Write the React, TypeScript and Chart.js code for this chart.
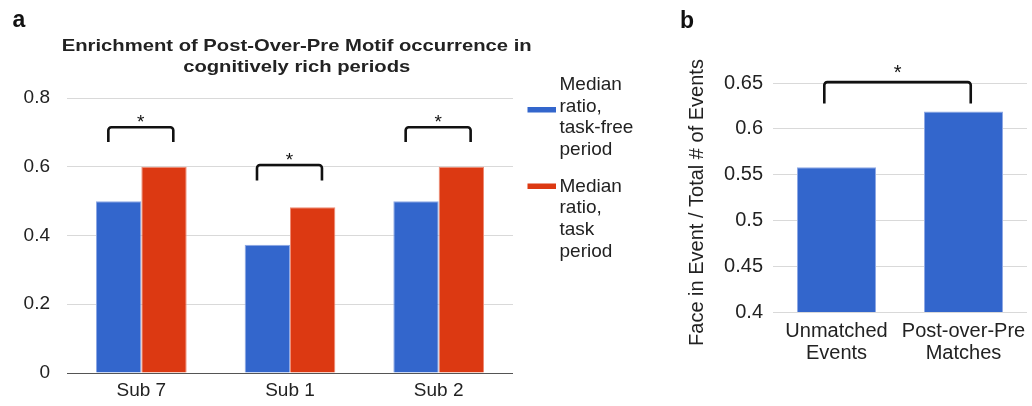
import React, { useEffect, useRef } from 'react';
import { Chart, registerables } from 'chart.js';

Chart.register(...registerables);

const FONT = "'Liberation Sans', Arial, Helvetica, sans-serif";
const TEXT = '#222222';

// ---------- Panel a data ----------
const subjects = ['Sub 7', 'Sub 1', 'Sub 2'];
const taskFreeMedian = [0.5, 0.373, 0.5];
const taskMedian = [0.6, 0.482, 0.6];
const seriesLabelsA = ['Median ratio, task-free period', 'Median ratio, task period'];
const legendLinesA = [
  ['Median', 'ratio,', 'task-free', 'period'],
  ['Median', 'ratio,', 'task', 'period'],
];
const titleLinesA = ['Enrichment of Post-Over-Pre Motif occurrence in', 'cognitively rich periods'];
const yTicksA = [0, 0.2, 0.4, 0.6, 0.8];
// significance brackets (per category): leg bottom value and top value
const bracketCatsA = [0, 1, 2];
const bracketLegA = [0.672, 0.56, 0.672];
const bracketTopA = [0.715, 0.605, 0.715];

// ---------- Panel b data ----------
const eventGroups = [['Unmatched', 'Events'], ['Post-over-Pre', 'Matches']];
const faceRatio = [0.558, 0.619];
const yTicksB = [0.4, 0.45, 0.5, 0.55, 0.6, 0.65];
const yTitleB = 'Face in Event / Total # of Events';
const bracketLegB = [0.6275];
const bracketTopB = [0.651];

const fmt = (v: number) => String(+Number(v).toFixed(2));

function drawBracket(ctx: CanvasRenderingContext2D, x1: number, x2: number, yLeg: number, yTop: number) {
  const r = 3;
  ctx.save();
  ctx.strokeStyle = '#111';
  ctx.lineWidth = 2.6;
  ctx.lineJoin = 'round';
  ctx.beginPath();
  ctx.moveTo(x1, yLeg);
  ctx.lineTo(x1, yTop + r);
  ctx.arcTo(x1, yTop, x1 + r, yTop, r);
  ctx.lineTo(x2 - r, yTop);
  ctx.arcTo(x2, yTop, x2, yTop + r, r);
  ctx.lineTo(x2, yLeg);
  ctx.stroke();
  ctx.restore();
}

function drawStar(ctx: CanvasRenderingContext2D, x: number, baseline: number, size: number) {
  ctx.save();
  ctx.fillStyle = '#111';
  ctx.font = `${size}px ${FONT}`;
  ctx.textAlign = 'center';
  ctx.textBaseline = 'alphabetic';
  ctx.fillText('*', x, baseline);
  ctx.restore();
}

const annotA = {
  id: 'annotA',
  afterDraw(chart: any) {
    const ctx: CanvasRenderingContext2D = chart.ctx;
    const xs = chart.scales.x;
    const ys = chart.scales.y;
    ctx.save();
    // panel label
    ctx.fillStyle = '#111';
    ctx.font = `bold 23px ${FONT}`;
    ctx.textAlign = 'left';
    ctx.textBaseline = 'alphabetic';
    ctx.fillText('a', 12.5, 27);
    // title (slightly wide face, as in the reference)
    ctx.fillStyle = TEXT;
    ctx.font = `bold 17px ${FONT}`;
    ctx.textAlign = 'center';
    const stretch = 470 / ctx.measureText(titleLinesA[0]).width;
    titleLinesA.forEach((t, i) => {
      ctx.save();
      ctx.translate(296.7, 50.5 + i * 21.5);
      ctx.scale(stretch, 1);
      ctx.fillText(t, 0, 0);
      ctx.restore();
    });
    // legend
    const boxTops = [107, 183.5];
    const firstBase = [90, 191.7];
    chart.data.datasets.forEach((ds: any, i: number) => {
      ctx.fillStyle = ds.backgroundColor;
      ctx.fillRect(527.5, boxTops[i], 28.5, 5.5);
      ctx.fillStyle = TEXT;
      ctx.font = `19px ${FONT}`;
      ctx.textAlign = 'left';
      legendLinesA[i].forEach((l, j) => ctx.fillText(l, 559.5, firstBase[i] + j * 21.67));
    });
    ctx.restore();
    // brackets
    bracketCatsA.forEach((c, i) => {
      const x1 = xs.getPixelForValue(c - 0.222);
      const x2 = xs.getPixelForValue(c + 0.215);
      const yl = ys.getPixelForValue(bracketLegA[i]);
      const yt = ys.getPixelForValue(bracketTopA[i]);
      drawBracket(ctx, x1, x2, yl, yt);
      drawStar(ctx, (x1 + x2) / 2, yt + 0.5, 19);
    });
  },
};

const annotB = {
  id: 'annotB',
  afterDraw(chart: any) {
    const ctx: CanvasRenderingContext2D = chart.ctx;
    const xs = chart.scales.x;
    const ys = chart.scales.y;
    ctx.save();
    ctx.fillStyle = '#111';
    ctx.font = `bold 23px ${FONT}`;
    ctx.textAlign = 'left';
    ctx.textBaseline = 'alphabetic';
    ctx.fillText('b', 40, 28);
    // y axis title
    ctx.fillStyle = TEXT;
    ctx.font = `20px ${FONT}`;
    ctx.textAlign = 'center';
    ctx.textBaseline = 'middle';
    ctx.translate(57, 202.5);
    ctx.rotate(-Math.PI / 2);
    ctx.fillText(yTitleB, 0, 0);
    ctx.restore();
    const x1 = xs.getPixelForValue(-0.096);
    const x2 = xs.getPixelForValue(1.057);
    const yl = ys.getPixelForValue(bracketLegB[0]);
    const yt = ys.getPixelForValue(bracketTopB[0]);
    drawBracket(ctx, x1, x2, yl, yt);
    drawStar(ctx, (x1 + x2) / 2, yt - 3, 20);
  },
};

const fixX = (h: number) => (s: any) => {
  s.height = h;
  s.paddingLeft = 0;
  s.paddingRight = 0;
};

function ChartA() {
  const ref = useRef<HTMLCanvasElement | null>(null);
  useEffect(() => {
    if (!ref.current) return;
    const chart = new Chart(ref.current, {
      type: 'bar',
      data: {
        labels: subjects,
        datasets: [
          {
            label: seriesLabelsA[0],
            data: taskFreeMedian,
            backgroundColor: '#3366cc',
            borderColor: '#8ea8e4',
            borderWidth: 1,
            categoryPercentage: 0.61,
            barPercentage: 1,
          },
          {
            label: seriesLabelsA[1],
            data: taskMedian,
            backgroundColor: '#dc3912',
            borderColor: '#ee8c74',
            borderWidth: 1,
            categoryPercentage: 0.61,
            barPercentage: 1,
          },
        ],
      } as any,
      options: {
        responsive: false,
        animation: false,
        devicePixelRatio: 1,
        layout: { padding: { left: 0, top: 98, right: 127, bottom: 0 } },
        plugins: { legend: { display: false }, title: { display: false }, tooltip: { enabled: false } },
        scales: {
          x: {
            grid: { display: false, drawTicks: false },
            border: { display: false },
            ticks: { font: { family: FONT, size: 19 }, color: TEXT, padding: 6, maxRotation: 0, minRotation: 0, autoSkip: false },
            afterFit: fixX(33),
          },
          y: {
            min: 0,
            max: 0.8,
            afterBuildTicks: (s: any) => { s.ticks = yTicksA.map((v) => ({ value: v })); },
            grid: {
              color: (c: any) => (c.tick && c.tick.value === 0 ? '#555555' : '#d9d9d9'),
              drawTicks: false,
              lineWidth: 1,
            },
            border: { display: false },
            ticks: { font: { family: FONT, size: 19 }, color: TEXT, padding: 17, callback: (v: any) => fmt(v) },
            afterFit: (s: any) => { s.width = 67; },
          },
        },
      } as any,
      plugins: [annotA],
    });
    return () => chart.destroy();
  }, []);
  return <canvas ref={ref} width={640} height={406} style={{ position: 'absolute', left: 0, top: 0 }} />;
}

function ChartB() {
  const ref = useRef<HTMLCanvasElement | null>(null);
  useEffect(() => {
    if (!ref.current) return;
    const chart = new Chart(ref.current, {
      type: 'bar',
      data: {
        labels: eventGroups,
        datasets: [
          {
            label: yTitleB,
            data: faceRatio,
            backgroundColor: '#3366cc',
            borderColor: '#8ea8e4',
            borderWidth: 1,
            categoryPercentage: 0.622,
            barPercentage: 1,
          },
        ],
      } as any,
      options: {
        responsive: false,
        animation: false,
        devicePixelRatio: 1,
        layout: { padding: { left: 0, top: 83, right: 5, bottom: 0 } },
        plugins: { legend: { display: false }, title: { display: false }, tooltip: { enabled: false } },
        scales: {
          x: {
            grid: { display: false, drawTicks: false },
            border: { display: false },
            ticks: {
              font: { family: FONT, size: 20, lineHeight: 1.1 },
              color: TEXT,
              padding: 8,
              maxRotation: 0,
              minRotation: 0,
              autoSkip: false,
            },
            afterFit: fixX(94),
          },
          y: {
            min: 0.4,
            max: 0.65,
            afterBuildTicks: (s: any) => { s.ticks = yTicksB.map((v) => ({ value: v })); },
            grid: { color: '#d9d9d9', drawTicks: false, lineWidth: 1 },
            border: { display: false },
            ticks: { font: { family: FONT, size: 20 }, color: TEXT, padding: 10, callback: (v: any) => fmt(v) },
            afterFit: (s: any) => { s.width = 133; },
          },
        },
      } as any,
      plugins: [annotB],
    });
    return () => chart.destroy();
  }, []);
  return <canvas ref={ref} width={392} height={406} style={{ position: 'absolute', left: 640, top: 0 }} />;
}

export default function App() {
  return (
    <div style={{ position: 'absolute', left: 0, top: 0, width: 1032, height: 406, background: '#ffffff', overflow: 'hidden' }}>
      <ChartA />
      <ChartB />
    </div>
  );
}
